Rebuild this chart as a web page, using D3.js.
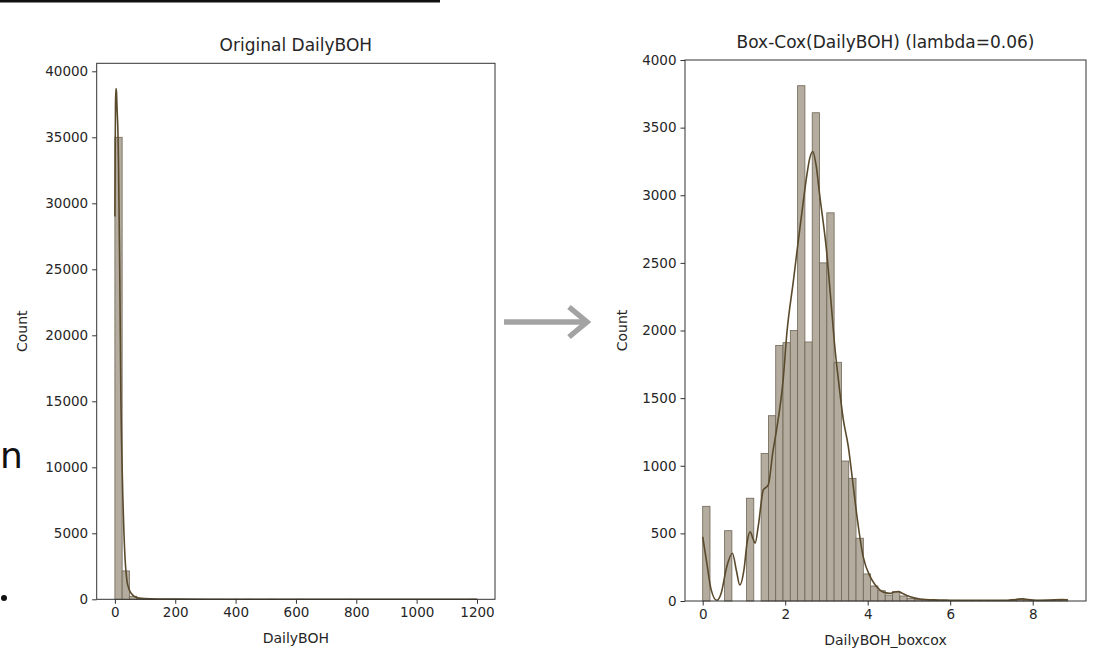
<!DOCTYPE html>
<html>
<head>
<meta charset="utf-8">
<script src="https://cdn.jsdelivr.net/npm/d3@7"></script>
<style>
  html, body { margin: 0; padding: 0; background: #fff; }
  svg { display: block; }
  text { font-family: "DejaVu Sans", sans-serif; fill: #262626; }
</style>
</head>
<body>
<svg id="chart" width="1107" height="670"></svg>
<script>
// ---------------- DATA ----------------
// Left panel: Original DailyBOH histogram (50 bins of width 24 starting at 0)
const leftTitle = "Original DailyBOH";
const leftXLabel = "DailyBOH";
const leftBinStart = 0;
const leftBinWidth = 24;
const leftCounts = [35000, 2150, 230, 60, 25, 12, 8, 5, 4, 3,
                    2, 2, 1, 1, 1, 0, 1, 0, 1, 0,
                    0, 1, 0, 0, 0, 1, 0, 0, 0, 0,
                    0, 0, 1, 0, 0, 0, 0, 0, 0, 0,
                    0, 0, 0, 0, 0, 0, 0, 0, 0, 1];
const leftKdeX = [0, 1, 2, 3.5, 5, 7.5, 10, 12, 14, 16, 18, 20, 23, 26, 30, 35, 40, 45, 50, 60, 70, 80, 100, 150, 200, 300, 500, 800, 1000, 1200];
const leftKdeY = [29000, 34000, 37500, 38700, 38500, 37000, 35500, 33000, 29000, 25000, 20000, 15000, 11000, 8000, 5000, 2600, 1400, 900, 600, 300, 150, 90, 50, 20, 10, 5, 3, 2, 2, 1];
const leftXTicks = [0, 200, 400, 600, 800, 1000, 1200];
const leftYTicks = [0, 5000, 10000, 15000, 20000, 25000, 30000, 35000, 40000];

// Right panel: Box-Cox transformed histogram (50 bins of width 0.177 starting at 0)
const rightTitle = "Box-Cox(DailyBOH) (lambda=0.06)";
const rightXLabel = "DailyBOH_boxcox";
const rightBinStart = 0;
const rightBinWidth = 0.177;
const rightCounts = [700, 0, 0, 520, 0, 0, 760, 0, 1090, 1370,
                     1890, 1910, 2000, 3810, 1915, 3610, 2500, 2870, 1765, 1035,
                     907, 464, 200, 111, 76, 44, 69, 37, 20, 12,
                     8, 6, 5, 4, 5, 4, 3, 4, 3, 3,
                     4, 5, 8, 16, 9, 5, 4, 6, 8, 9];
const rightKdeX = [0, 0.1, 0.2, 0.34, 0.45, 0.58, 0.72, 0.82, 0.9, 1.0, 1.08, 1.15, 1.22, 1.27, 1.35, 1.47, 1.59, 1.7, 1.79, 1.95, 2.04, 2.2, 2.32, 2.45, 2.52, 2.6, 2.67, 2.75, 2.84, 3.0, 3.1, 3.21, 3.29, 3.41, 3.53, 3.63, 3.73, 3.89, 4.06, 4.18, 4.3, 4.42, 4.54, 4.65, 4.74, 4.85, 5.03, 5.27, 5.6, 6.0, 6.5, 7.0, 7.4, 7.6, 7.75, 7.9, 8.1, 8.4, 8.7, 8.85];
const rightKdeY = [475, 280, 90, 5, 60, 250, 353, 220, 118, 230, 440, 512, 460, 427, 560, 821, 858, 1100, 1265, 1635, 1980, 2370, 2670, 2980, 3139, 3280, 3324, 3220, 2991, 2596, 2250, 1856, 1635, 1339, 1142, 900, 649, 328, 180, 120, 81, 62, 57, 66, 69, 55, 32, 15, 8, 6, 5, 5, 6, 10, 16, 10, 6, 7, 10, 9];
const rightXTicks = [0, 2, 4, 6, 8];
const rightYTicks = [0, 500, 1000, 1500, 2000, 2500, 3000, 3500, 4000];

const yLabel = "Count";

// ---------------- STYLE ----------------
const barFill = "#b3ac9f";
const barStroke = "#6f6655";
const kdeColor = "#5a4a2c";
const spineColor = "#333333";

const svg = d3.select("#chart");

// Decorations from the slide the chart was cut from
svg.append("rect").attr("x", 0).attr("y", 0).attr("width", 440).attr("height", 2.5).attr("fill", "#111");
svg.append("text").attr("x", 0).attr("y", 468).attr("font-size", 36).style("fill", "#111").text("n");
svg.append("circle").attr("cx", 4).attr("cy", 598).attr("r", 3).attr("fill", "#111");

// Arrow between panels
const arrow = svg.append("g").attr("stroke", "#a3a3a3").attr("fill", "none").attr("stroke-width", 5.5);
arrow.append("line").attr("x1", 504).attr("y1", 322).attr("x2", 588).attr("y2", 322);
arrow.append("polyline").attr("points", "569,307 587,322 569,337").attr("stroke-linejoin", "miter").attr("stroke-linecap", "butt");

function panel(cfg) {
  const g = svg.append("g");
  const x = d3.scaleLinear().domain(cfg.xDomain).range([cfg.left, cfg.right]);
  const y = d3.scaleLinear().domain(cfg.yDomain).range([cfg.bottom, cfg.top]);

  // bars
  g.append("g").selectAll("rect").data(cfg.counts).join("rect")
    .attr("x", (d, i) => x(cfg.binStart + i * cfg.binWidth))
    .attr("width", (d, i) => x(cfg.binStart + (i + 1) * cfg.binWidth) - x(cfg.binStart + i * cfg.binWidth))
    .attr("y", d => y(d))
    .attr("height", d => y(0) - y(d))
    .attr("fill", barFill)
    .attr("stroke", barStroke)
    .attr("stroke-width", 0.8);

  // kde
  const pts = cfg.kdeX.map((v, i) => [v, cfg.kdeY[i]]);
  g.append("path").datum(pts)
    .attr("d", d3.line().x(d => x(d[0])).y(d => y(d[1])).curve(d3.curveMonotoneX))
    .attr("fill", "none").attr("stroke", kdeColor).attr("stroke-width", 1.6);

  // axes
  const xAxis = g.append("g").attr("transform", `translate(0,${cfg.bottom})`)
    .call(d3.axisBottom(x).tickValues(cfg.xTicks).tickSize(4.5).tickPadding(4).tickFormat(d3.format("d")));
  const yAxis = g.append("g").attr("transform", `translate(${cfg.left},0)`)
    .call(d3.axisLeft(y).tickValues(cfg.yTicks).tickSize(4.5).tickPadding(4).tickFormat(d3.format("d")));
  [xAxis, yAxis].forEach(a => {
    a.select(".domain").remove();
    a.selectAll(".tick line").attr("stroke", spineColor).attr("stroke-width", 1);
    a.selectAll(".tick text").attr("font-size", 13.5).attr("font-family", "DejaVu Sans").style("fill", "#262626");
  });

  // spines
  g.append("rect").attr("x", cfg.left).attr("y", cfg.top)
    .attr("width", cfg.right - cfg.left).attr("height", cfg.bottom - cfg.top)
    .attr("fill", "none").attr("stroke", spineColor).attr("stroke-width", 1);

  // title and labels
  const cx = (cfg.left + cfg.right) / 2;
  g.append("text").attr("x", cx).attr("y", cfg.top - 12).attr("text-anchor", "middle")
    .attr("font-size", 17).text(cfg.title);
  g.append("text").attr("x", cx).attr("y", cfg.bottom + 44).attr("text-anchor", "middle")
    .attr("font-size", 14).text(cfg.xLabel);
  g.append("text").attr("transform", `translate(${cfg.yLabelX},${(cfg.top + cfg.bottom) / 2}) rotate(-90)`)
    .attr("text-anchor", "middle").attr("font-size", 14).text(yLabel);
}

panel({
  left: 96.7, right: 495, top: 63.3, bottom: 599.3,
  xDomain: [-60.3, 1259.7], yDomain: [0, 40606],
  counts: leftCounts, binStart: leftBinStart, binWidth: leftBinWidth,
  kdeX: leftKdeX, kdeY: leftKdeY,
  xTicks: leftXTicks, yTicks: leftYTicks,
  title: leftTitle, xLabel: leftXLabel, yLabelX: 27
});

panel({
  left: 685, right: 1086, top: 60, bottom: 601,
  xDomain: [-0.429, 9.292], yDomain: [0, 4000],
  counts: rightCounts, binStart: rightBinStart, binWidth: rightBinWidth,
  kdeX: rightKdeX, kdeY: rightKdeY,
  xTicks: rightXTicks, yTicks: rightYTicks,
  title: rightTitle, xLabel: rightXLabel, yLabelX: 627
});
</script>
</body>
</html>
